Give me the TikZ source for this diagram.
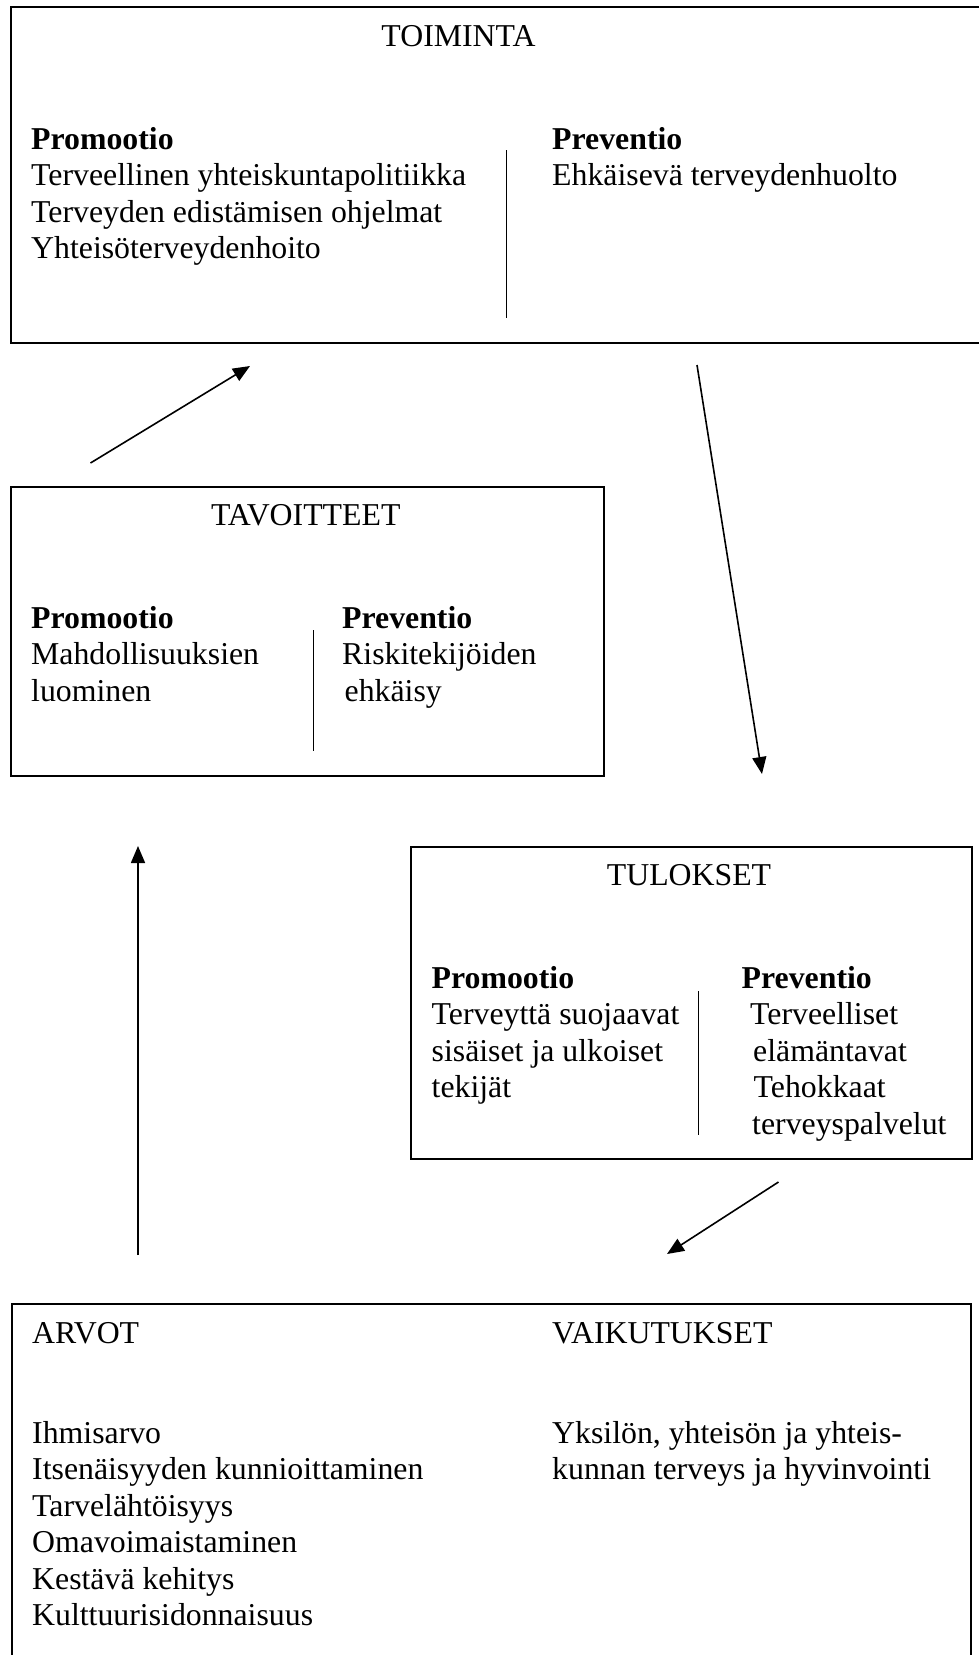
\documentclass[tikz,border=0pt]{standalone}
\usepackage{fontspec}
\setmainfont{Liberation Serif}
\usetikzlibrary{arrows.meta}
\newcommand{\colblk}[1]{\begin{tabular}[t]{@{}l@{}}#1\end{tabular}}
\begin{document}
\begin{tikzpicture}[x=1pt,y=-1pt,
  font=\fontsize{31.8}{36.5}\selectfont,
  boxstyle/.style={draw, line width=2.2pt, inner sep=0pt, anchor=north west},
  txt/.style={inner sep=0pt, anchor=base west},
  ttl/.style={inner sep=0pt, anchor=base},
  divider/.style={line width=1.3pt},
  arr/.style={line width=1.6pt, -{Triangle[length=17pt,width=14pt]}}]
\fill[white] (0,0) rectangle (978,1655);
\useasboundingbox (0,0) rectangle (978,1655);

% boxes
\node[boxstyle, minimum width=980pt, minimum height=336pt] (toiminta) at (10,6) {};
\node[boxstyle, minimum width=593.5pt, minimum height=289pt] (tavoitteet) at (9.5,486) {};
\node[boxstyle, minimum width=561pt, minimum height=312pt] (tulokset) at (410,846) {};
\node[boxstyle, minimum width=959.3pt, minimum height=380pt] (arvot) at (10.7,1303) {};

% TOIMINTA
\node[ttl] (toimt) at (458.5,46) {TOIMINTA};
\node[txt] (toimpro) at (31,149) {\colblk{\textbf{Promootio}\\Terveellinen yhteiskuntapolitiikka\\Terveyden edistämisen ohjelmat\\Yhteisöterveydenhoito}};
\node[txt] (toimpre) at (552,149) {\colblk{\textbf{Preventio}\\Ehkäisevä terveydenhuolto}};
\coordinate (d1a) at (506.5,150);
\coordinate (d1b) at (506.5,318);
\draw[divider] (d1a) -- (d1b);

% TAVOITTEET
\node[ttl] (tavt) at (305.7,525) {TAVOITTEET};
\node[txt] (tavpro) at (31,628) {\colblk{\textbf{Promootio}\\Mahdollisuuksien\\luominen}};
\node[txt] (tavpre) at (342,628) {\colblk{\textbf{Preventio}\\Riskitekijöiden\\\hspace*{2.5pt}ehkäisy}};
\coordinate (d2a) at (313.8,630);
\coordinate (d2b) at (313.8,751);
\draw[divider] (d2a) -- (d2b);

% TULOKSET
\node[ttl] (tult) at (689,885) {TULOKSET};
\node[txt] (tulpro) at (431.5,988) {\colblk{\textbf{Promootio}\\Terveyttä suojaavat\\sisäiset ja ulkoiset\\tekijät}};
\node[txt] (tulpre) at (741.5,988) {\colblk{\textbf{Preventio}\\\hspace*{8.5pt}Terveelliset\\\hspace*{11.5pt}elämäntavat\\\hspace*{12pt}Tehokkaat\\\hspace*{10.5pt}terveyspalvelut}};
\coordinate (d3a) at (698.5,991);
\coordinate (d3b) at (698.5,1135);
\draw[divider] (d3a) -- (d3b);

% ARVOT / VAIKUTUKSET
\node[txt] (arvt) at (32,1343) {ARVOT};
\node[txt] (vait) at (552,1343) {VAIKUTUKSET};
\node[txt] (arvlist) at (32,1443) {\colblk{Ihmisarvo\\Itsenäisyyden kunnioittaminen\\Tarvelähtöisyys\\Omavoimaistaminen\\Kestävä kehitys\\Kulttuurisidonnaisuus}};
\node[txt] (vailist) at (552,1443) {\colblk{Yksilön, yhteisön ja yhteis-\\kunnan terveys ja hyvinvointi}};

% arrows
\coordinate (a1s) at (90.5,463);
\coordinate (a1e) at (250,366);
\coordinate (a2s) at (697,365);
\coordinate (a2e) at (762,774);
\coordinate (a3s) at (138,1255);
\coordinate (a3e) at (138,846);
\coordinate (a4s) at (778.5,1182);
\coordinate (a4e) at (667,1254);
\draw[arr] (a1s) -- (a1e);
\draw[arr] (a2s) -- (a2e);
\draw[arr] (a3s) -- (a3e);
\draw[arr] (a4s) -- (a4e);
\end{tikzpicture}
\end{document}
